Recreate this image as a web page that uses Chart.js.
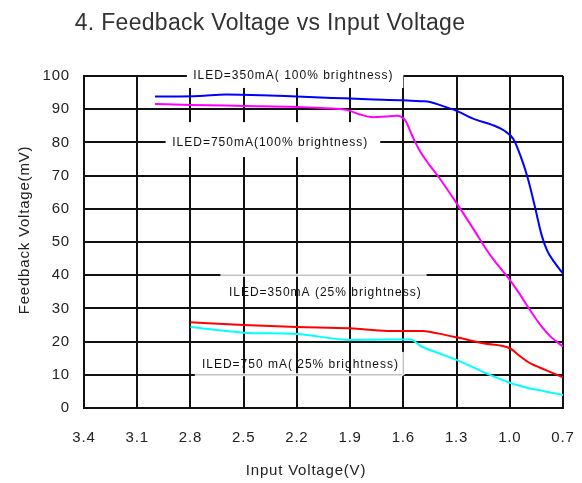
<!DOCTYPE html>
<html>
<head>
<meta charset="utf-8">
<script src="https://cdn.jsdelivr.net/npm/chart.js@4.4.1/dist/chart.umd.min.js"></script>
<style>
  html, body { margin: 0; padding: 0; background: #fff; }
  #wrap { position: relative; width: 582px; height: 483px; }
</style>
</head>
<body>
<div id="wrap"><canvas id="chartCanvas"></canvas></div>
<script>
// axis ticks (input voltage runs from 3.4 V on the left down to 0.7 V)
const xTicks = [3.4, 3.1, 2.8, 2.5, 2.2, 1.9, 1.6, 1.3, 1.0, 0.7];
const yTicks = [0, 10, 20, 30, 40, 50, 60, 70, 80, 90, 100];

// ILED = 350mA, 100% brightness
const led350FullV  = [3.0, 2.75, 2.6, 2.4, 2.2, 2.0, 1.8, 1.6, 1.5, 1.45, 1.38, 1.3, 1.2, 1.1, 1.03, 0.98, 0.94, 0.9, 0.86, 0.82, 0.79, 0.75, 0.7];
const led350FullMv = [93.8, 94.0, 94.4, 94.2, 93.8, 93.4, 93.0, 92.7, 92.4, 92.2, 91.0, 89.5, 87.0, 85.3, 83.5, 81.0, 76.0, 69.5, 61.0, 52.0, 47.5, 44.0, 40.5];

// ILED = 750mA, 100% brightness
const led750FullV  = [3.0, 2.8, 2.5, 2.2, 2.0, 1.92, 1.85, 1.77, 1.7, 1.64, 1.59, 1.55, 1.51, 1.45, 1.4, 1.3, 1.2, 1.13, 1.09, 1.0, 0.94, 0.886, 0.82, 0.77, 0.7];
const led750FullMv = [91.6, 91.3, 91.0, 90.7, 90.2, 89.8, 88.5, 87.6, 87.8, 88.0, 86.7, 82.0, 77.7, 73.0, 69.5, 61.7, 53.5, 47.6, 44.6, 38.6, 34.0, 29.5, 24.5, 21.5, 18.5];

// ILED = 350mA, 25% brightness
const led350QuarterV  = [2.8, 2.5, 2.2, 1.9, 1.69, 1.49, 1.4, 1.3, 1.15, 1.0, 0.94, 0.886, 0.8, 0.7];
const led350QuarterMv = [25.8, 25.0, 24.4, 24.0, 23.2, 23.2, 22.4, 21.3, 19.5, 18.0, 15.5, 13.5, 11.5, 9.2];

// ILED = 750mA, 25% brightness
const led750QuarterV  = [2.8, 2.5, 2.2, 1.9, 1.7, 1.56, 1.5, 1.4, 1.3, 1.13, 1.0, 0.886, 0.8, 0.7];
const led750QuarterMv = [24.4, 22.7, 22.3, 20.5, 20.6, 20.6, 18.6, 16.5, 14.5, 10.4, 7.6, 5.9, 5.0, 3.9];

const FONT = "'Liberation Sans', Arial, sans-serif";

// in-plot labels, placed in data units
const curveLabels = [
    { text: 'ILED=350mA( 100% brightness)', x: 2.22, y: 100, cover: [2.82, 1.6, 103.5, 96.4] },
    { text: 'ILED=750mA(100% brightness)', x: 2.35, y: 80, cover: [2.94, 1.73, 86.1, 75.6] },
    { text: 'ILED=350mA (25% brightness)', x: 2.04, y: 34.6, edges: [[2.63, 40, 1.47, 40]] },
    { text: 'ILED=750 mA( 25% brightness)', x: 2.18, y: 13, edges: [[2.775, 10, 1.6, 10], [1.6, 10, 1.6, 16.9]] }
];

function toPoints(xs, ys) {
    return xs.map((x, i) => ({ x: x, y: ys[i] }));
}

const labelPlugin = {
    id: 'curveLabels',
    beforeUpdate(chart) {
        chart.ctx.letterSpacing = '0.8px';
    },
    beforeDraw(chart) {
        chart.ctx.letterSpacing = '0.8px';
    },
    beforeDatasetsDraw(chart) {
        const { ctx, scales: { x, y } } = chart;
        ctx.save();
        curveLabels.forEach(l => {
            if (l.cover) {
                const x1 = x.getPixelForValue(l.cover[0]);
                const x2 = x.getPixelForValue(l.cover[1]);
                const y1 = y.getPixelForValue(l.cover[2]);
                const y2 = y.getPixelForValue(l.cover[3]);
                ctx.fillStyle = '#fff';
                ctx.fillRect(x1, y1, x2 - x1, y2 - y1);
            }
            if (l.edges) {
                l.edges.forEach(e => {
                    const ax = x.getPixelForValue(e[0]), ay = y.getPixelForValue(e[1]);
                    const bx = x.getPixelForValue(e[2]), by = y.getPixelForValue(e[3]);
                    ctx.strokeStyle = '#fff';
                    ctx.lineWidth = 3;
                    ctx.beginPath(); ctx.moveTo(ax, ay); ctx.lineTo(bx, by); ctx.stroke();
                    ctx.strokeStyle = '#c4c4c4';
                    ctx.lineWidth = 1.5;
                    ctx.beginPath(); ctx.moveTo(ax, ay); ctx.lineTo(bx, by); ctx.stroke();
                });
            }
            ctx.letterSpacing = '1px';
            ctx.font = '12px ' + FONT;
            ctx.fillStyle = '#111';
            ctx.textAlign = 'center';
            ctx.textBaseline = 'middle';
            ctx.fillText(l.text, x.getPixelForValue(l.x), y.getPixelForValue(l.y));
        });
        ctx.restore();
    },
    afterDraw(chart) {
        const ctx = chart.ctx;
        ctx.save();
        ctx.textAlign = 'center';
        ctx.textBaseline = 'middle';

        ctx.letterSpacing = '0.3px';
        ctx.font = '23px ' + FONT;
        ctx.fillStyle = '#333';
        ctx.textBaseline = 'alphabetic';
        ctx.fillText('4. Feedback Voltage vs Input Voltage', 270, 30);

        // axis titles
        ctx.letterSpacing = '0.8px';
        ctx.font = '15px ' + FONT;
        ctx.fillStyle = '#222';
        ctx.textBaseline = 'middle';
        ctx.fillText('Input Voltage(V)', 306, 471);
        ctx.translate(25, 230);
        ctx.rotate(-Math.PI / 2);
        ctx.fillText('Feedback Voltage(mV)', 0, 0);
        ctx.restore();
    }
};

const lineStyle = { borderWidth: 2, pointRadius: 0, fill: false, cubicInterpolationMode: 'monotone' };

new Chart(document.getElementById('chartCanvas'), {
    type: 'line',
    data: {
        datasets: [
            { label: 'ILED=350mA(100% brightness)', data: toPoints(led350FullV, led350FullMv), borderColor: '#0000ff', ...lineStyle },
            { label: 'ILED=750mA(100% brightness)', data: toPoints(led750FullV, led750FullMv), borderColor: '#ff00ff', ...lineStyle },
            { label: 'ILED=350mA(25% brightness)', data: toPoints(led350QuarterV, led350QuarterMv), borderColor: '#ff0000', ...lineStyle },
            { label: 'ILED=750mA(25% brightness)', data: toPoints(led750QuarterV, led750QuarterMv), borderColor: '#00ffff', ...lineStyle }
        ]
    },
    options: {
        responsive: true,
        maintainAspectRatio: false,
        animation: false,
        layout: { padding: { top: 76, right: 19, left: 0, bottom: 0 } },
        plugins: { legend: { display: false }, tooltip: { enabled: false }, title: { display: false } },
        scales: {
            x: {
                type: 'linear',
                reverse: true,
                min: 0.7,
                max: 3.4,
                afterBuildTicks: s => { s.ticks = xTicks.map(v => ({ value: v })); },
                afterFit: s => { s.height = 75; },
                grid: { color: '#111', lineWidth: 2, drawTicks: true, tickLength: 21, tickColor: 'rgba(0,0,0,0)' },
                border: { display: true, color: '#111', width: 2 },
                ticks: { padding: 0, color: '#222', font: { family: FONT, size: 15 }, callback: v => v.toFixed(1) },
                title: { display: false }
            },
            y: {
                min: 0,
                max: 100,
                afterBuildTicks: s => { s.ticks = yTicks.map(v => ({ value: v })); },
                afterFit: s => { s.width = 84; },
                grid: { color: '#111', lineWidth: 2, drawTicks: false },
                border: { display: true, color: '#111', width: 2 },
                ticks: { padding: 14, color: '#222', font: { family: FONT, size: 15 } },
                title: { display: false }
            }
        }
    },
    plugins: [labelPlugin]
});
</script>
</body>
</html>
